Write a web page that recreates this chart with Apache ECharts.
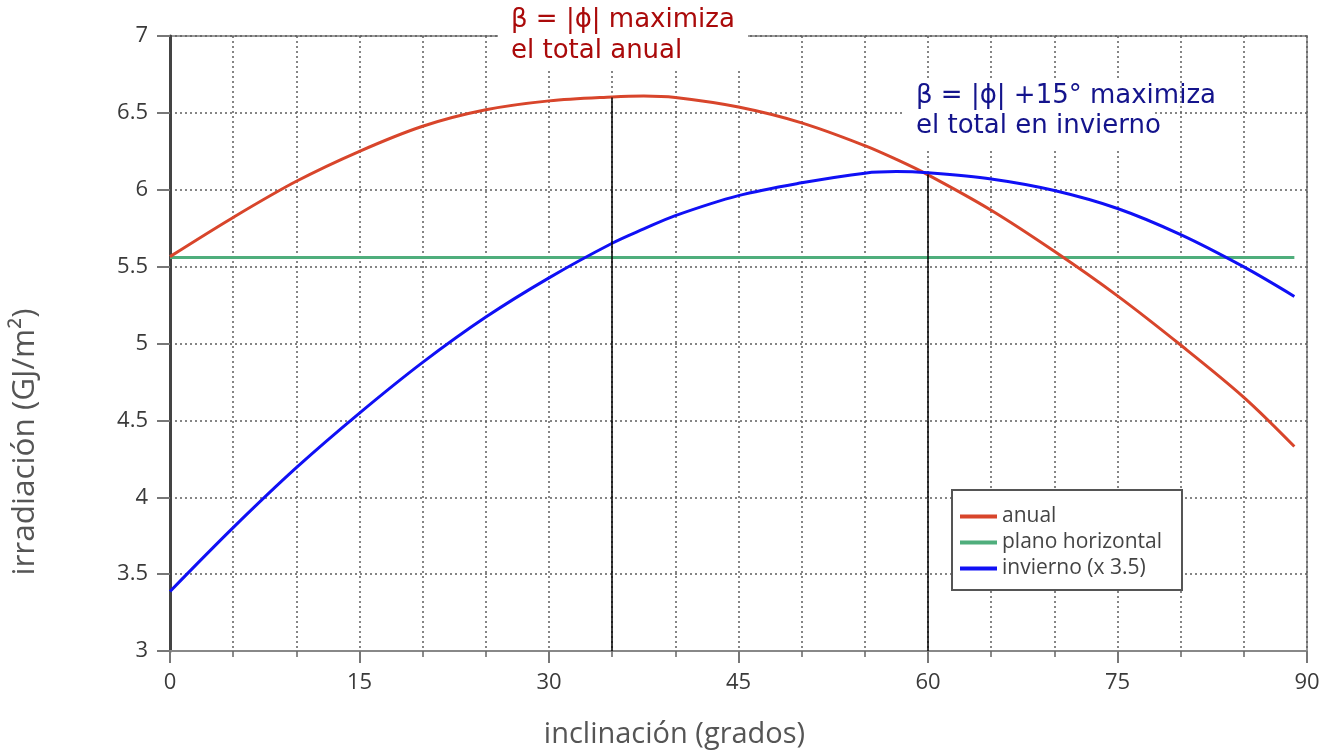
<!DOCTYPE html>
<html><head><meta charset="utf-8">
<script src="https://cdn.jsdelivr.net/npm/echarts@6/dist/echarts.min.js"></script>
<style>html,body{margin:0;padding:0;background:#fff}#c{width:1328px;height:752px}</style>
</head><body><div id="c"></div>
<script>
const inclinacion = [0,5,10,15,20,25,30,35,37.5,40,45,50,55,57.5,60,65,70,75,80,85,89];
const anual = [5.565,5.82,6.055,6.25,6.413,6.52,6.578,6.604,6.610,6.600,6.538,6.435,6.287,6.197,6.097,5.867,5.60,5.31,4.99,4.65,4.33];
const planoHorizontal = [5.56,5.56,5.56,5.56,5.56,5.56,5.56,5.56,5.56,5.56,5.56,5.56,5.56,5.56,5.56,5.56,5.56,5.56,5.56,5.56,5.56];
const invierno = [3.387,3.802,4.192,4.547,4.877,5.172,5.427,5.652,5.745,5.832,5.962,6.045,6.108,6.118,6.110,6.07,5.995,5.878,5.708,5.498,5.306];
const seriesNames = ['anual','plano horizontal','invierno (x 3.5)'];
const optimoX = [35, 60];
const optimoY = [6.6, 6.1];
const xMin = 0, xMax = 90, xStep = 15;
const yMin = 3, yMax = 7, yStep = 0.5;
const nota1 = 'β = |ϕ| maximiza\nel total anual';
const nota2 = 'β = |ϕ| +15° maximiza\nel total en invierno';

const pts = arr => inclinacion.map((x,i)=>[x,arr[i]]);
const FONT = 'Open Sans';
const gridDot = {color:'#5e5e5e', type:[2,3], width:1.5};
const SMOOTH = 0.333;

const chart = echarts.init(document.getElementById('c'), null, {renderer:'canvas'});
chart.setOption({
  animation:false,
  backgroundColor:'#fff',
  grid:{left:170, right:21, top:36, bottom:101, outerBoundsMode:'none', containLabel:false,
        show:true, borderColor:'#9a9a9a', borderWidth:2},
  xAxis:{
    type:'value', min:xMin, max:xMax, interval:xStep,
    name:'inclinación (grados)', nameLocation:'middle', nameGap:69,
    nameTextStyle:{fontFamily:FONT, fontSize:29, color:'#555', padding:[0,128,0,0]},
    axisLine:{show:true, lineStyle:{color:'#888', width:2}},
    axisTick:{show:true, length:12, lineStyle:{color:'#777', width:2}},
    minorTick:{show:true, splitNumber:3, length:6, lineStyle:{color:'#666', width:1.5}},
    splitLine:{show:true, lineStyle:gridDot},
    minorSplitLine:{show:true, lineStyle:gridDot},
    axisLabel:{fontFamily:FONT, fontSize:22, color:'#3a3a3a', margin:21}
  },
  yAxis:{
    type:'value', min:yMin, max:yMax, interval:yStep,
    name:'irradiación (GJ/m²)', nameLocation:'middle', nameGap:129, nameRotate:90,
    nameTextStyle:{fontFamily:FONT, fontSize:31.5, color:'#555', padding:[0,197,0,0]},
    axisLine:{show:true, lineStyle:{color:'#444', width:3}},
    axisTick:{show:true, length:13, lineStyle:{color:'#777', width:2}},
    splitLine:{show:true, lineStyle:gridDot},
    axisLabel:{fontFamily:FONT, fontSize:22, color:'#3a3a3a', margin:22}
  },
  legend:{
    data:seriesNames, orient:'vertical', left:952, top:490,
    icon:'rect', itemWidth:37, itemHeight:4, itemGap:5,
    padding:[16,20,11,8],
    backgroundColor:'#fff', borderColor:'#555', borderWidth:2, borderRadius:0,
    textStyle:{fontFamily:FONT, fontSize:21, color:'#444', lineHeight:21}
  },
  series:[
    {name:seriesNames[0], type:'line', data:pts(anual), smooth:SMOOTH, symbol:'none',
     z:3, color:'#d8452b', lineStyle:{width:3, color:'#d8452b'},
     markLine:{silent:true, symbol:'none', animation:false, label:{show:false},
       lineStyle:{color:'#000', width:1.5, type:'solid'},
       data: optimoX.map((x,i)=>[{coord:[x,optimoY[i]]},{coord:[x,yMin]}])}},
    {name:seriesNames[1], type:'line', data:pts(planoHorizontal), symbol:'none',
     z:2, color:'#4fae7c', lineStyle:{width:3, color:'#4fae7c'}},
    {name:seriesNames[2], type:'line', data:pts(invierno), smooth:SMOOTH, symbol:'none',
     z:4, color:'#1010f5', lineStyle:{width:3, color:'#1010f5'}}
  ],
  graphic:[
    {type:'rect', z:100, shape:{x:498, y:0, width:250, height:70}, style:{fill:'#fff'}},
    {type:'text', z:101, left:511, top:5, style:{text:nota1, fill:'#aa0a0a', font:'26px "DejaVu Sans"', lineHeight:31}},
    {type:'rect', z:100, shape:{x:903, y:78, width:250, height:72}, style:{fill:'#fff'}},
    {type:'text', z:101, left:916, top:81, style:{text:nota2, fill:'#14148c', font:'26px "DejaVu Sans"', lineHeight:30}}
  ]
});
</script></body></html>
